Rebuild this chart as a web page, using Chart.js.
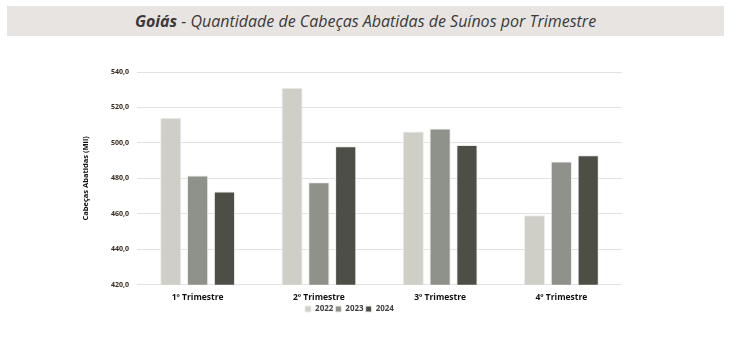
<!DOCTYPE html>
<html>
<head>
<meta charset="utf-8">
<script src="https://cdn.jsdelivr.net/npm/chart.js@4"></script>
<style>
  body { margin: 0; background: #fff; }
  #wrap { position: relative; width: 732px; height: 341px; }
  #titulo {
    position: absolute; left: 7px; top: 6px; width: 717px; height: 30px;
    background: #e8e4e1; color: #3a3a3a; z-index: 2;
    font: italic 16px "Open Sans", sans-serif; line-height: 30px; text-align: center;
  }
  #titulo b { font-weight: 700; }
  canvas { position: absolute; left: 0; top: 0; }
</style>
</head>
<body>
<div id="wrap">
  <div id="titulo"><b>Goiás</b> - Quantidade de Cabeças Abatidas de Suínos por Trimestre</div>
  <canvas id="grafico" width="732" height="341"></canvas>
</div>
<script>
var trimestres = ['1º Trimestre', '2º Trimestre', '3º Trimestre', '4º Trimestre'];
var anos = ['2022', '2023', '2024'];
var valores2022 = [514.2, 531.1, 506.5, 459.2];
var valores2023 = [481.6, 477.8, 508.2, 489.5];
var valores2024 = [472.6, 498.2, 498.8, 493.1];
var cores = ['#cfcfc8', '#8f918b', '#4d4e45'];

var series = [valores2022, valores2023, valores2024];

new Chart(document.getElementById('grafico'), {
  type: 'bar',
  data: {
    labels: trimestres,
    datasets: anos.map(function(a, i){
      return {
        label: a,
        data: series[i],
        backgroundColor: cores[i],
        borderColor: '#ececea',
        borderWidth: 1,
        categoryPercentage: 0.664,
        barPercentage: 0.79
      };
    })
  },
  options: {
    responsive: false,
    animation: false,
    layout: { padding: { left: 77, right: 110, top: 72, bottom: 18 } },
    plugins: {
      title: { display: false },
      tooltip: { enabled: false },
      legend: {
        position: 'bottom',
        labels: {
          boxWidth: 6, boxHeight: 6, padding: 2,
          color: '#404040',
          font: { family: 'Open Sans', size: 8, weight: 'bold' }
        }
      }
    },
    scales: {
      x: {
        grid: { display: false },
        border: { display: false },
        ticks: { color: '#111', padding: 0, font: { family: 'Open Sans', size: 8.5, weight: 'bold' } }
      },
      y: {
        min: 420, max: 540,
        ticks: {
          stepSize: 20, color: '#3a2a20', padding: 8,
          font: { family: 'Open Sans', size: 7, weight: 'bold' },
          callback: function(v){ return v.toFixed(1).replace('.', ','); }
        },
        grid: { color: '#e2e2e2', drawTicks: false },
        border: { display: false },
        title: {
          display: true, text: 'Cabeças Abatidas (Mil)', color: '#111',
          font: { family: 'Open Sans', size: 7.5, weight: 'bold' }
        },
        afterFit: function(s){ s.width = 60; }
      }
    }
  }
});
</script>
</body>
</html>
